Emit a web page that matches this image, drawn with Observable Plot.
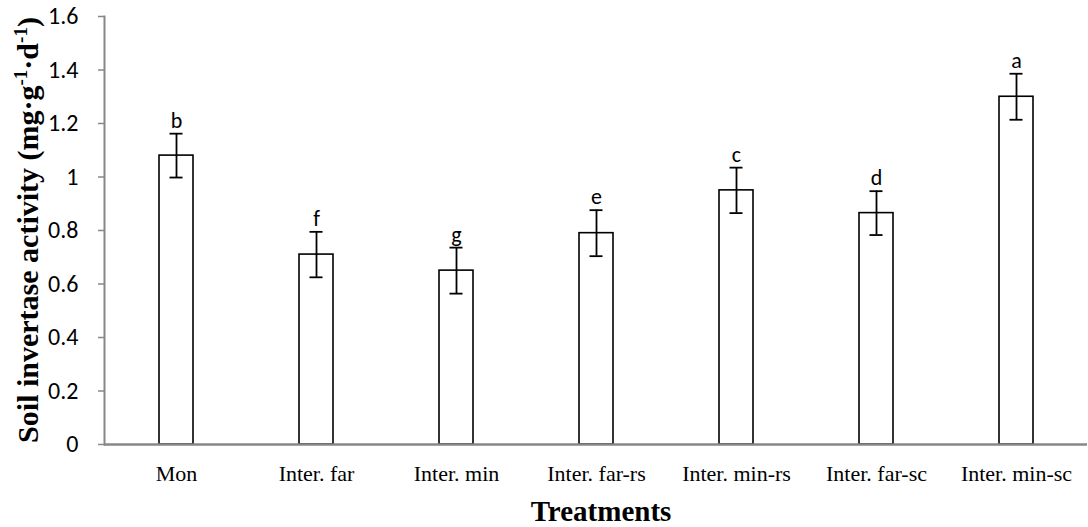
<!DOCTYPE html>
<html>
<head>
<meta charset="utf-8">
<script src="https://cdn.jsdelivr.net/npm/d3@7"></script>
<script src="https://cdn.jsdelivr.net/npm/@observablehq/plot@0.6"></script>
<style>
  html, body { margin: 0; padding: 0; background: #fff; }
  #chart svg { display: block; }
</style>
</head>
<body>
<div id="chart"></div>
<script>
const treatments = ["Mon", "Inter. far", "Inter. min", "Inter. far-rs", "Inter. min-rs", "Inter. far-sc", "Inter. min-sc"];
const means = [1.08, 0.71, 0.65, 0.79, 0.95, 0.865, 1.30];
const errors = [0.082, 0.085, 0.086, 0.086, 0.085, 0.082, 0.086];
const letters = ["b", "f", "g", "e", "c", "d", "a"];
const yTicks = [0, 0.2, 0.4, 0.6, 0.8, 1.0, 1.2, 1.4, 1.6];

const data = treatments.map((t, i) => ({
  t, mean: means[i], lo: means[i] - errors[i], hi: means[i] + errors[i], letter: letters[i]
}));

const grey = "#878787";
const sans = "Carlito, Lato, 'Open Sans', sans-serif";
const serif = "'Liberation Serif', 'Times New Roman', serif";

const plot = Plot.plot({
  width: 1088,
  height: 527,
  marginLeft: 104,
  marginRight: 1,
  marginTop: 16,
  marginBottom: 83,
  style: { background: "#fff", overflow: "visible" },
  x: { domain: treatments, paddingInner: 0.76, paddingOuter: 0.38, label: null },
  y: { domain: [0, 1.6], label: null },
  marks: [
    Plot.barY(data, { x: "t", y: "mean", fill: "#fff", stroke: "#000", strokeWidth: 1.6 }),
    Plot.ruleX(data, { x: "t", y1: "lo", y2: "hi", stroke: "#000", strokeWidth: 1.8 }),
    Plot.tickY(data, { x: "t", y: "lo", stroke: "#000", strokeWidth: 1.8, inset: 10.5 }),
    Plot.tickY(data, { x: "t", y: "hi", stroke: "#000", strokeWidth: 1.8, inset: 10.5 }),
    Plot.text(data, { x: "t", y: "hi", text: "letter", lineAnchor: "bottom", dy: -6, fontSize: 22, fontFamily: sans, fill: "#000" }),
    Plot.axisY({ ticks: yTicks, tickFormat: () => "", tickSize: 6, stroke: grey, strokeWidth: 1.5, label: null }),
    Plot.text(yTicks, { y: d => d, text: d => String(+d.toFixed(1)), frameAnchor: "left", textAnchor: "end", dx: -26, fontSize: 24, fontFamily: sans, fill: "#000" }),
    Plot.axisX({ tickSize: 0, tickPadding: 21, fontSize: 22, fontFamily: serif, fill: "#000", label: null }),
    Plot.frame({ anchor: "left", stroke: grey, strokeWidth: 2 }),
    Plot.ruleY([0], { stroke: grey, strokeWidth: 2.5 }),
    Plot.text(["Treatments"], { frameAnchor: "bottom", dy: 76, dx: 5, fontSize: 29, fontWeight: "bold", fontFamily: serif, fill: "#000" })
  ]
});

document.getElementById("chart").appendChild(plot);

// rotated y-axis title with superscripts
const svg = d3.select(plot);
const t = svg.append("text")
  .attr("transform", "translate(38,230) rotate(-90)")
  .attr("text-anchor", "middle")
  .attr("font-family", serif)
  .attr("font-weight", "bold")
  .attr("font-size", 30)
  .attr("fill", "#000");
t.append("tspan").text("Soil invertase activity (mg·g");
t.append("tspan").attr("dy", -11).attr("font-size", 19).text("-1");
t.append("tspan").attr("dy", 11).text("·d");
t.append("tspan").attr("dy", -11).attr("font-size", 19).text("-1");
t.append("tspan").attr("dy", 11).text(")");
</script>
</body>
</html>
